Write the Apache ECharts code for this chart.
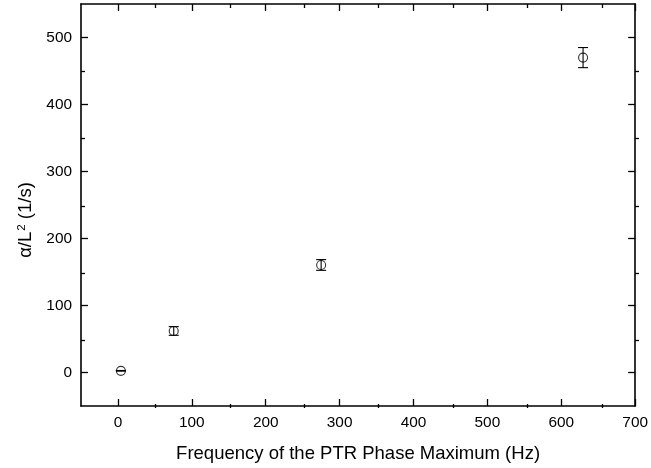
<!DOCTYPE html>
<html>
<head>
<meta charset="utf-8">
<script src="https://cdn.jsdelivr.net/npm/echarts@6/dist/echarts.min.js"></script>
<style>html,body{margin:0;padding:0;background:#fff}#c{width:651px;height:468px}</style>
</head>
<body>
<div id="c"></div>
<script>
// Data
var freq = [4, 75.5, 275, 629.5];          // Hz
var alpha = [2.5, 62, 160.5, 470];          // 1/s
var alphaErr = [0.5, 6.5, 8, 15];           // error bar half-length
var xTicks = [0, 100, 200, 300, 400, 500, 600, 700];
var yTicks = [0, 100, 200, 300, 400, 500];
var xMinorTicks = [50, 150, 250, 350, 450, 550, 650];
var yMinorTicks = [50, 150, 250, 350, 450];

var font = 'Liberation Sans, Arial, sans-serif';
var pts = freq.map(function (f, i) { return [f, alpha[i]]; });
var errs = freq.map(function (f, i) { return [f, alpha[i] - alphaErr[i], alpha[i] + alphaErr[i]]; });

var chart = echarts.init(document.getElementById('c'), null, {renderer: 'canvas'});
var gridRect = {left: 81, right: 12, top: 4, bottom: 60, containLabel: false};
var axisLine = {show: true, onZero: false, lineStyle: {color: '#000', width: 1.6}};
var hiddenLine = {show: false, onZero: false};
function tick(vals, len) { return {show: true, inside: true, length: len, customValues: vals, lineStyle: {color: '#000', width: 1.3}}; }
var labelStyle = {margin: 9, fontFamily: font, fontSize: 15.4, color: '#000'};

function xAx(grid, pos, major, withLabel) {
  var a = {
    type: 'value', gridIndex: grid, min: -50, max: 700, interval: 50, position: pos,
    axisLine: major ? axisLine : hiddenLine,
    axisTick: major ? tick(xTicks, 7) : tick(xMinorTicks, 4),
    splitLine: {show: false},
    axisLabel: withLabel ? Object.assign({customValues: xTicks}, labelStyle) : {show: false}
  };
  if (withLabel) {
    a.name = 'Frequency of the PTR Phase Maximum (Hz)';
    a.nameLocation = 'middle';
    a.nameGap = 38;
    a.nameTextStyle = {fontFamily: font, fontSize: 18.5, color: '#000'};
  }
  return a;
}
function yAx(grid, pos, major, withLabel) {
  var a = {
    type: 'value', gridIndex: grid, min: -50, max: 550, interval: 50, position: pos,
    axisLine: major ? axisLine : hiddenLine,
    axisTick: major ? tick(yTicks, 7) : tick(yMinorTicks, 4),
    splitLine: {show: false},
    axisLabel: withLabel ? Object.assign({customValues: yTicks}, labelStyle) : {show: false}
  };
  if (withLabel) {
    a.name = '{a|α/L}{s|2}{a| (1/s)}';
    a.nameLocation = 'middle';
    a.nameGap = 40;
    a.nameRotate = 90;
    a.nameTextStyle = {fontFamily: font, color: '#000', padding: [0, 30, 0, 0],
      rich: {a: {fontFamily: font, fontSize: 18.5, color: '#000'},
             s: {fontFamily: font, fontSize: 11.5, color: '#000', verticalAlign: 'top', padding: [0, 0, 9, 1]}}};
  }
  return a;
}

chart.setOption({
  animation: false,
  backgroundColor: '#fff',
  grid: [Object.assign({}, gridRect), Object.assign({}, gridRect)],
  xAxis: [xAx(0, 'bottom', true, true), xAx(0, 'top', true, false),
          xAx(1, 'bottom', false, false), xAx(1, 'top', false, false)],
  yAxis: [yAx(0, 'left', true, true), yAx(0, 'right', true, false),
          yAx(1, 'left', false, false), yAx(1, 'right', false, false)],
  series: [{
    type: 'custom',
    xAxisIndex: 0, yAxisIndex: 0,
    data: errs,
    renderItem: function (params, api) {
      var x = api.value(0);
      var lo = api.coord([x, api.value(1)]);
      var hi = api.coord([x, api.value(2)]);
      var w = 5;
      var st = {stroke: '#000', lineWidth: 1.1};
      return {type: 'group', children: [
        {type: 'line', shape: {x1: lo[0], y1: lo[1], x2: hi[0], y2: hi[1]}, style: st},
        {type: 'line', shape: {x1: lo[0] - w, y1: lo[1], x2: lo[0] + w, y2: lo[1]}, style: st},
        {type: 'line', shape: {x1: hi[0] - w, y1: hi[1], x2: hi[0] + w, y2: hi[1]}, style: st}
      ]};
    },
    z: 3
  }, {
    type: 'scatter', xAxisIndex: 0, yAxisIndex: 0,
    data: pts, symbol: 'circle', symbolSize: 9,
    itemStyle: {color: 'rgba(0,0,0,0)', borderColor: '#000', borderWidth: 1.1},
    z: 4
  }]
});
</script>
</body>
</html>
